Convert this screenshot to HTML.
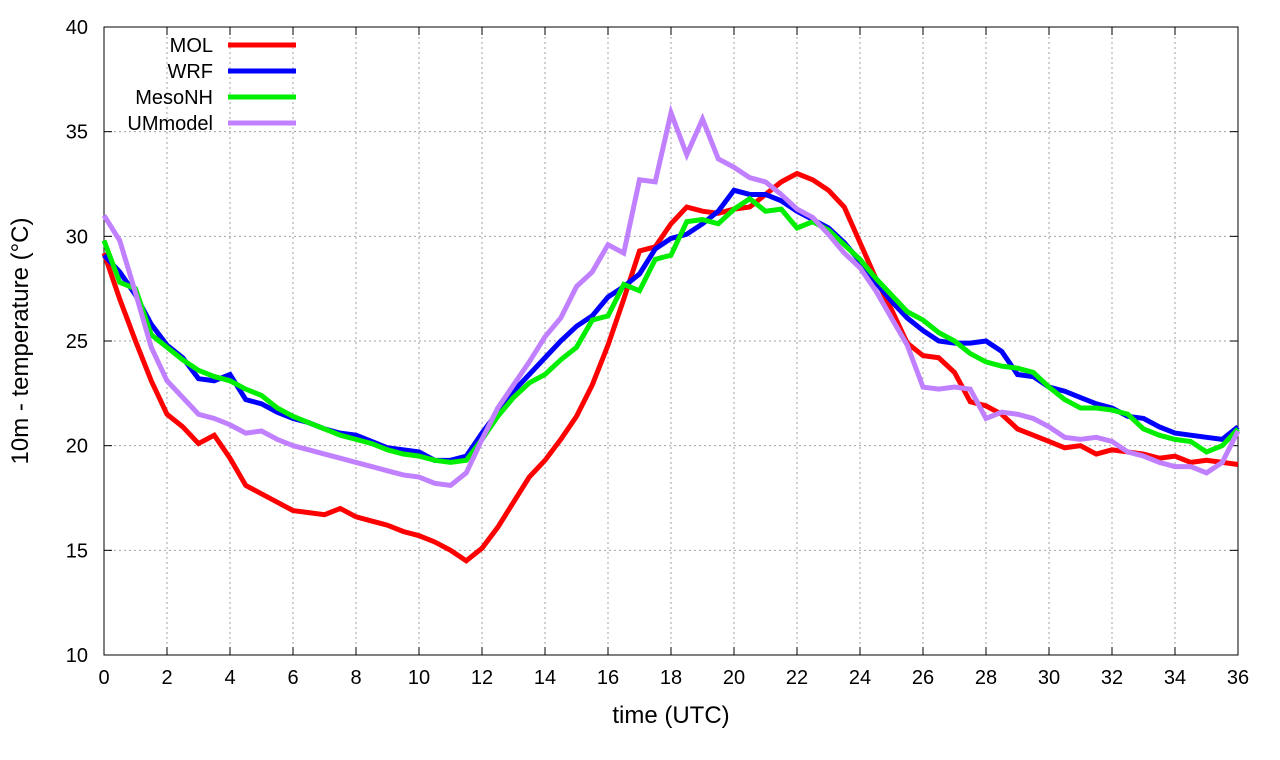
<!DOCTYPE html>
<html><head><meta charset="utf-8"><style>
body{margin:0;background:#fff}
svg{display:block;font-family:"Liberation Sans",sans-serif}
</style></head><body>
<svg id="chart" width="1280" height="760" xmlns="http://www.w3.org/2000/svg"></svg>
<script>
const hours = [];
for (let i = 0; i <= 72; i++) hours.push(i * 0.5);
const molValues = [29.2,27.0,25.0,23.1,21.5,20.9,20.1,20.5,19.4,18.1,17.7,17.3,16.9,16.8,16.7,17.0,16.6,16.4,16.2,15.9,15.7,15.4,15.0,14.5,15.1,16.1,17.3,18.5,19.3,20.3,21.4,22.9,24.8,27.0,29.3,29.5,30.6,31.4,31.2,31.1,31.3,31.4,32.0,32.6,33.0,32.7,32.2,31.4,29.7,28.0,26.5,24.9,24.3,24.2,23.5,22.1,21.9,21.5,20.8,20.5,20.2,19.9,20.0,19.6,19.8,19.7,19.6,19.4,19.5,19.2,19.3,19.2,19.1];
const wrfValues = [29.1,28.3,27.2,25.8,24.8,24.2,23.2,23.1,23.4,22.2,22.0,21.6,21.3,21.1,20.8,20.6,20.5,20.2,19.9,19.8,19.7,19.3,19.3,19.5,20.6,21.6,22.6,23.4,24.2,25.0,25.7,26.2,27.1,27.6,28.2,29.4,29.9,30.1,30.6,31.2,32.2,32.0,32.0,31.7,31.2,30.8,30.4,29.7,28.8,27.8,26.9,26.1,25.5,25.0,24.9,24.9,25.0,24.5,23.4,23.3,22.8,22.6,22.3,22.0,21.8,21.4,21.3,20.9,20.6,20.5,20.4,20.3,20.9];
const mesonhValues = [29.8,27.8,27.5,25.3,24.7,24.1,23.6,23.3,23.1,22.7,22.4,21.8,21.4,21.1,20.8,20.5,20.3,20.1,19.8,19.6,19.5,19.3,19.2,19.3,20.3,21.4,22.3,23.0,23.4,24.1,24.7,26.0,26.2,27.7,27.4,28.9,29.1,30.7,30.8,30.6,31.3,31.8,31.2,31.3,30.4,30.7,30.3,29.6,28.9,28.0,27.2,26.4,26.0,25.4,25.0,24.4,24.0,23.8,23.7,23.5,22.8,22.2,21.8,21.8,21.7,21.5,20.8,20.5,20.3,20.2,19.7,20.0,20.8];
const ummodelValues = [31.0,29.8,27.3,24.7,23.1,22.3,21.5,21.3,21.0,20.6,20.7,20.3,20.0,19.8,19.6,19.4,19.2,19.0,18.8,18.6,18.5,18.2,18.1,18.7,20.3,21.8,22.9,24.0,25.2,26.1,27.6,28.3,29.6,29.2,32.7,32.6,35.9,33.9,35.6,33.7,33.3,32.8,32.6,32.0,31.3,30.9,30.1,29.2,28.5,27.4,26.1,24.8,22.8,22.7,22.8,22.7,21.3,21.6,21.5,21.3,20.9,20.4,20.3,20.4,20.2,19.7,19.5,19.2,19.0,19.0,18.7,19.2,20.7];
const xTicks = [0,2,4,6,8,10,12,14,16,18,20,22,24,26,28,30,32,34,36];
const yTicks = [10,15,20,25,30,35,40];
const seriesNames = ["MOL","WRF","MesoNH","UMmodel"];
const seriesColors = ["#ff0000","#0000ff","#00ee00","#c080ff"];
const seriesData = [molValues,wrfValues,mesonhValues,ummodelValues];

const L=104,R=1238,T=27,B=655;
const xs=v=>L+(v-0)/36*(R-L);
const ys=v=>B-(v-10)/30*(B-T);
const NS="http://www.w3.org/2000/svg";
const svg=document.getElementById('chart');
function mk(tag,attrs,parent){const e=document.createElementNS(NS,tag);for(const k in attrs)e.setAttribute(k,attrs[k]);(parent||svg).appendChild(e);return e;}

const grid=mk('g',{});


xTicks.forEach(t=>{
  if(t>0&&t<36) mk('line',{x1:xs(t),x2:xs(t),y1:T,y2:B,stroke:'#a0a0a0','stroke-width':1,'stroke-dasharray':'2,3'},grid);
  mk('line',{x1:xs(t),x2:xs(t),y1:B,y2:B-8,stroke:'#000'},grid);
  mk('line',{x1:xs(t),x2:xs(t),y1:T,y2:T+8,stroke:'#000'},grid);
  const tx=mk('text',{x:xs(t),y:B+29,'text-anchor':'middle','font-size':20});
  
  
  tx.textContent=t;
});
yTicks.forEach(t=>{
  if(t>10&&t<40) mk('line',{x1:L,x2:R,y1:ys(t),y2:ys(t),stroke:'#a0a0a0','stroke-width':1,'stroke-dasharray':'2,3'},grid);
  mk('line',{x1:L,x2:L+8,y1:ys(t),y2:ys(t),stroke:'#000'},grid);
  mk('line',{x1:R,x2:R-8,y1:ys(t),y2:ys(t),stroke:'#000'},grid);
  const tx=mk('text',{x:L-16,y:ys(t)+7,'text-anchor':'end','font-size':20});
  
  
  tx.textContent=t;
});
const frame=mk('rect',{x:L,y:T,width:R-L,height:B-T,fill:'none',stroke:'#000','stroke-width':1});



seriesData.forEach((d,i)=>{
  const p=mk('polyline',{points:d.map((v,j)=>xs(hours[j])+','+ys(v)).join(' '),fill:'none',stroke:seriesColors[i],'stroke-width':5,'stroke-linejoin':'miter'});
  
  
});

seriesNames.forEach((n,i)=>{
  const y=45+i*26;
  const g=mk('g',{});
  
  
  const t=mk('text',{x:213,y:y+7,'text-anchor':'end','font-size':20},g);
  t.textContent=n;
  mk('line',{x1:228,x2:296,y1:y,y2:y,stroke:seriesColors[i],'stroke-width':5},g);
});

const xt=mk('text',{x:(L+R)/2,y:723,'text-anchor':'middle','font-size':24});


xt.textContent='time (UTC)';
const yt=mk('text',{x:0,y:0,'text-anchor':'middle','font-size':24,transform:'translate(28,341) rotate(-90)'});


yt.textContent='10m - temperature (°C)';
</script>
</body></html>
